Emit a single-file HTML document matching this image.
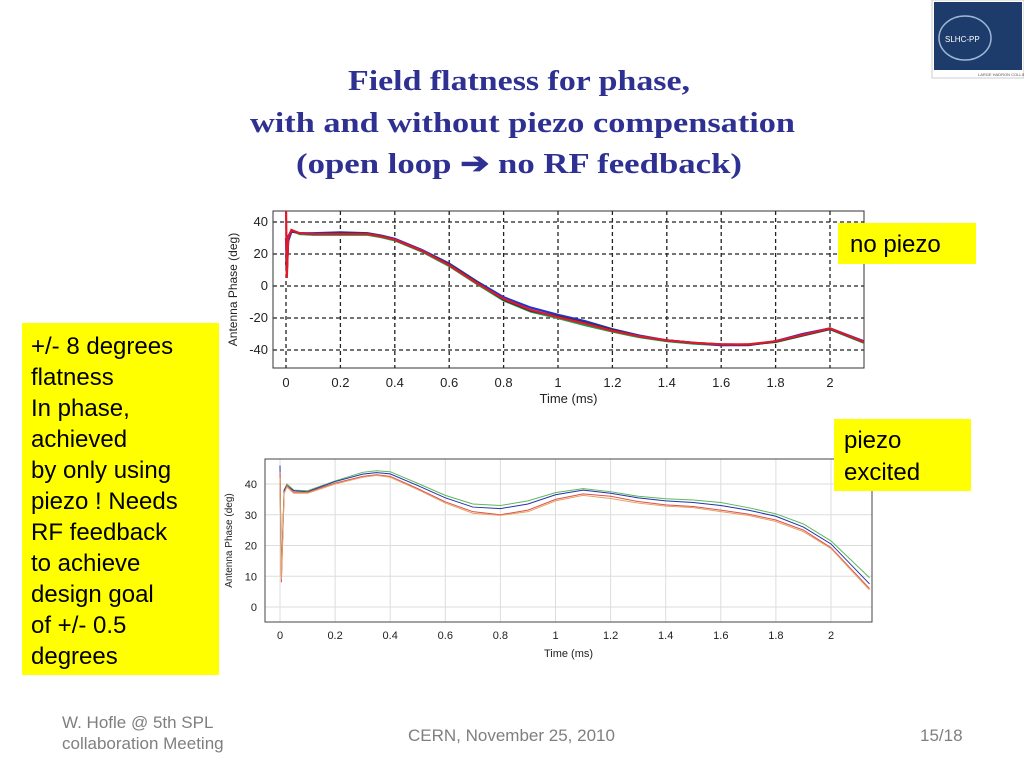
<!DOCTYPE html>
<html><head><meta charset="utf-8"><style>
html,body{margin:0;padding:0;background:#fff;width:1024px;height:768px;overflow:hidden}
svg{display:block}
.s{font-family:"Liberation Sans",sans-serif}
.t{font-family:"Liberation Serif",serif;font-weight:bold;fill:#2e3192;font-size:29px}
</style></head><body>
<svg id="page" width="1024" height="768" viewBox="0 0 1024 768">
<g>
<rect x="932" y="0" width="92" height="78" fill="#fff" stroke="#ccc"/>
<rect x="934" y="2" width="88" height="68" fill="#1d3b6b"/>
<ellipse cx="965" cy="38" rx="26" ry="22" fill="none" stroke="#9fb7d6" stroke-width="1.5"/>
<text x="945" y="42" class="s" font-size="8" fill="#fff">SLHC-PP</text>
<text x="978" y="76" class="s" font-size="4" fill="#555">LARGE HADRON COLLIDER UPGRADE</text>
</g>
<text class="t" x="348" y="90" textLength="342" lengthAdjust="spacingAndGlyphs">Field flatness for phase,</text>
<text class="t" x="250" y="132" textLength="545" lengthAdjust="spacingAndGlyphs">with and without piezo compensation</text>
<text class="t" x="296" y="173" textLength="446" lengthAdjust="spacingAndGlyphs">(open loop ➔ no RF feedback)</text>

<g id="c1"></g>
<g id="c2"></g>

<g>
<rect x="838" y="223" width="138" height="41" fill="#ffff00"/>
<text x="850" y="252" class="s" font-size="24">no piezo</text></g>
<g>
<rect x="834" y="419" width="137" height="72" fill="#ffff00"/>
<text x="844" y="448" class="s" font-size="24">piezo</text>
<text x="844" y="480" class="s" font-size="24">excited</text></g>
<g>
<rect x="22" y="323" width="197" height="352" fill="#ffff00"/>
<g class="s" font-size="24">
<text x="31" y="354">+/- 8 degrees</text><text x="31" y="385">flatness</text>
<text x="31" y="416">In phase,</text><text x="31" y="447">achieved</text>
<text x="31" y="478">by  only using</text><text x="31" y="509">piezo ! Needs</text>
<text x="31" y="540">RF feedback</text><text x="31" y="571">to achieve</text>
<text x="31" y="602">design goal</text><text x="31" y="633">of +/- 0.5</text>
<text x="31" y="664">degrees</text></g></g>
<g class="s" fill="#7f7f7f" font-size="17">
<text x="62" y="728">W. Hofle @ 5th SPL</text><text x="62" y="749">collaboration Meeting</text>
<text x="408" y="741">CERN, November 25, 2010</text>
<text x="920" y="741">15/18</text></g>
</svg>
<script>
const NS="http://www.w3.org/2000/svg";
const t1=[0,0.003,0.008,0.02,0.05,0.1,0.2,0.3,0.35,0.4,0.5,0.6,0.7,0.8,0.9,1.0,1.1,1.2,1.3,1.4,1.5,1.6,1.7,1.8,1.9,2.0,2.14];
const top_red=[52,5,30,35,33,32.5,32.5,32.5,31,29,22,13,2,-8,-15,-19.5,-23.5,-28,-31.5,-34,-35.5,-36.5,-36.5,-34.5,-30.5,-26.5,-36];
const top_blue=[30,10,28,34,33,33,33.5,33,31.5,29.5,22.5,14,3,-7,-13.5,-18,-22,-27,-31,-34,-35.5,-37,-37,-34.5,-30,-26.5,-35.5];
const top_green=[20,8,30,35,32.5,32,32,32,30.5,28.5,21.5,12.5,1.5,-9,-16,-20,-24.5,-28.5,-32,-34.5,-36,-37,-36.5,-35,-31,-27,-36.5];
const top_black=[15,10,31,34.5,33,32.5,33,32.8,31.2,29,22,13.5,2.5,-8.5,-15.5,-19,-23,-27.5,-31.5,-34,-35.5,-36.5,-36.8,-34.8,-30.8,-26.8,-36];
const t2=[0,0.005,0.015,0.025,0.05,0.1,0.2,0.3,0.35,0.4,0.5,0.6,0.7,0.8,0.9,1.0,1.1,1.2,1.3,1.4,1.5,1.6,1.7,1.8,1.9,2.0,2.14];
const bot_blue=[46,10,38,39.5,37.8,37.5,40.8,43.2,43.7,43.3,39.5,35.5,32.5,32,33.5,36.5,38,37,35.5,34.5,34,33,31.5,29.5,26,20.5,7.5];
const bot_green=[40,12,38,40,38,37.8,41,43.8,44.3,44,40.2,36.3,33.5,33,34.5,37.2,38.5,37.5,36,35.2,34.8,34,32.3,30.3,27,21.5,9.5];
const bot_red=[44,8,37,39.5,37.3,37.3,40.3,42.5,43,42.5,38.5,34.2,31,30,31.5,35,36.8,36,34.3,33.2,32.7,31.5,30.2,28.3,25,19.3,6];
const bot_orange=[42,9,37,39,37,37,40,42.2,42.8,42.2,38.2,33.8,30.5,29.8,31,34.5,36.3,35.3,33.8,32.8,32.3,31,29.8,27.8,24.5,19,5.5];
const xticks=[0,0.2,0.4,0.6,0.8,1,1.2,1.4,1.6,1.8,2];
const yticks1=[40,20,0,-20,-40];
const yticks2=[0,10,20,30,40];
function el(p,tag,a){const e=document.createElementNS(NS,tag);for(const k in a)e.setAttribute(k,a[k]);p.appendChild(e);return e;}
function chart(g,o){
 const X=v=>o.x0+(v-0)*(o.x2-o.x0)/2, Y=v=>o.y0+(v-o.v0)*(o.y1-o.y0)/(o.v1-o.v0);
 const cid='clip'+g.id;const d=el(g,'defs',{});const cp=el(d,'clipPath',{id:cid});el(cp,'rect',{x:o.L,y:o.T,width:o.R-o.L,height:o.B-o.T});
 xticks.forEach(v=>{const l=el(g,'line',{x1:X(v),x2:X(v),y1:o.T,y2:o.B,stroke:o.grid,'stroke-width':o.gw,'stroke-dasharray':o.dash});
  
  const t=el(g,'text',{x:X(v),y:o.B+o.xl,'text-anchor':'middle',class:'s','font-size':o.fs,fill:'#222'});t.textContent=v;
  });
 o.yt.forEach(v=>{const l=el(g,'line',{x1:o.L,x2:o.R,y1:Y(v),y2:Y(v),stroke:o.grid,'stroke-width':o.gw,'stroke-dasharray':o.dash});
  
  const t=el(g,'text',{x:o.L-o.yl,y:Y(v)+4,'text-anchor':'end',class:'s','font-size':o.fs,fill:'#222'});t.textContent=v;
  });
 const fr=el(g,'rect',{x:o.L,y:o.T,width:o.R-o.L,height:o.B-o.T,fill:'none',stroke:o.frame,'stroke-width':1});
 
 o.series.forEach(([ys,c,n])=>{const p=el(g,'polyline',{points:o.t.map((v,i)=>X(v)+','+Y(ys[i])).join(' '),fill:'none',stroke:c,'stroke-width':o.lw,'clip-path':'url(#'+cid+')'});
  });
 const xt=el(g,'text',{x:(o.L+o.R)/2,y:o.xty,'text-anchor':'middle',class:'s','font-size':o.fs,fill:'#222'});xt.textContent='Time (ms)';
 
 const yt=el(g,'text',{x:o.ytx,y:(o.T+o.B)/2,'text-anchor':'middle',class:'s','font-size':o.fs-1,fill:'#222',transform:`rotate(-90 ${o.ytx} ${(o.T+o.B)/2})`});yt.textContent='Antenna Phase (deg)';
 
}
chart(document.getElementById('c1'),{L:273,R:864,T:211,B:368,x0:286,x2:830,v0:40,v1:-40,y0:222,y1:350,t:t1,yt:yticks1,grid:'#222',gw:1.3,dash:'4,3',frame:'#333',fs:13,xl:19,yl:5,lw:2.2,xty:403,ytx:237,
 series:[[top_green,'#1aa34a','series-green'],[top_blue,'#2233cc','series-blue'],[top_black,'#333','series-black'],[top_red,'#e0182d','series-red']]});
chart(document.getElementById('c2'),{L:265,R:872,T:459,B:622,x0:280,x2:831,v0:40,v1:0,y0:484,y1:607,t:t2,yt:yticks2,grid:'#ddd',gw:1,dash:'none',frame:'#444',fs:11,xl:17,yl:8,lw:1,xty:657,ytx:232,
 series:[[bot_green,'#5cb85c','series-green'],[bot_blue,'#2233aa','series-blue'],[bot_red,'#d9534f','series-red'],[bot_orange,'#e8a060','series-orange']]});
</script>
</body></html>
